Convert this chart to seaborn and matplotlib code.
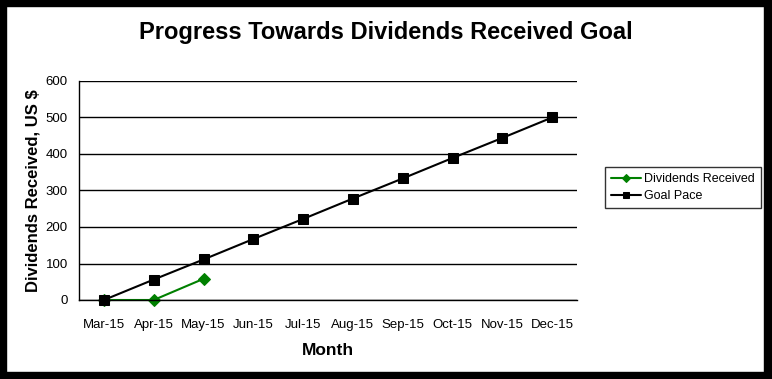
import matplotlib.pyplot as plt
import seaborn as sns
import pandas as pd
from matplotlib.patches import Rectangle

# --- Data ---
months = ['Mar-15', 'Apr-15', 'May-15', 'Jun-15', 'Jul-15',
          'Aug-15', 'Sep-15', 'Oct-15', 'Nov-15', 'Dec-15']
goal_pace = [0, 56, 111, 167, 222, 278, 333, 389, 444, 500]
dividends = [0, 0, 58]

goal_df = pd.DataFrame({'idx': range(len(months)), 'value': goal_pace})
div_df = pd.DataFrame({'idx': range(len(dividends)), 'value': dividends})

sns.set_style('white')
plt.rcParams['font.family'] = ['Liberation Sans', 'DejaVu Sans']
plt.rcParams['text.color'] = 'black'
plt.rcParams['axes.labelcolor'] = 'black'
plt.rcParams['xtick.color'] = 'black'
plt.rcParams['ytick.color'] = 'black'

W, H = 772, 379
fig = plt.figure(figsize=(W / 100, H / 100), dpi=100)
ax = fig.add_axes([79 / W, 1 - 300 / H, (577 - 79) / W, (300 - 81) / H])

sns.lineplot(data=div_df, x='idx', y='value', ax=ax, color='#008000',
             marker='D', markersize=6, markeredgecolor='#008000', linewidth=1.5,
             label='Dividends Received', zorder=2)
sns.lineplot(data=goal_df, x='idx', y='value', ax=ax, color='black',
             marker='s', markersize=6.5, markeredgecolor='black', linewidth=1.5,
             label='Goal Pace', zorder=3)
# markers sitting on the zero line are drawn whole, like the original
for line in ax.lines:
    line.set_clip_on(False)

ax.set_xlim(-0.5, len(months) - 0.5)
ax.set_ylim(0, 600)
ax.set_yticks(range(0, 601, 100))
ax.yaxis.grid(True, color='black', linewidth=1)
ax.set_axisbelow(True)

ax.set_xticks(range(len(months)))
ax.set_xticklabels(months, fontsize=9.5)
ax.set_xticks([i - 0.5 for i in range(len(months) + 1)], minor=True)
ax.tick_params(axis='x', which='major', length=0, pad=14)
ax.tick_params(axis='x', which='minor', length=5, width=1, color='black', direction='out')
ax.tick_params(axis='y', length=5, width=1, color='black', direction='out', labelsize=9.5, pad=3)

for side in ['top', 'right']:
    ax.spines[side].set_visible(False)
for side in ['left', 'bottom']:
    ax.spines[side].set_color('black')
    ax.spines[side].set_linewidth(1)

ax.set_xlabel('Month', fontsize=12.5, fontweight='bold', labelpad=8)
ax.set_ylabel('Dividends Received, US $', fontsize=12, fontweight='bold', labelpad=4)

fig.text(386 / W, 1 - 32 / H, 'Progress Towards Dividends Received Goal',
         ha='center', va='center', fontsize=17, fontweight='bold')

leg = ax.legend(loc='center left', bbox_to_anchor=(605 / W, 1 - 187.5 / H),
                bbox_transform=fig.transFigure, fontsize=9, frameon=True,
                fancybox=False, edgecolor='black', borderpad=0.5,
                handlelength=2.4, handletextpad=0.25, labelspacing=0.4,
                borderaxespad=0, markerscale=0.75)
leg.get_frame().set_linewidth(1)

# black frame around the figure (top, left, right, bottom thickness in px)
for x0, y0, w, h in [(0, 0, W, 6), (0, 0, 6, H), (W - 8, 0, 8, H), (0, H - 7, W, 7)]:
    fig.patches.append(Rectangle((x0 / W, 1 - (y0 + h) / H), w / W, h / H,
                                 transform=fig.transFigure, color='black', zorder=10))

fig.savefig('out.png', dpi=100, facecolor='white')
